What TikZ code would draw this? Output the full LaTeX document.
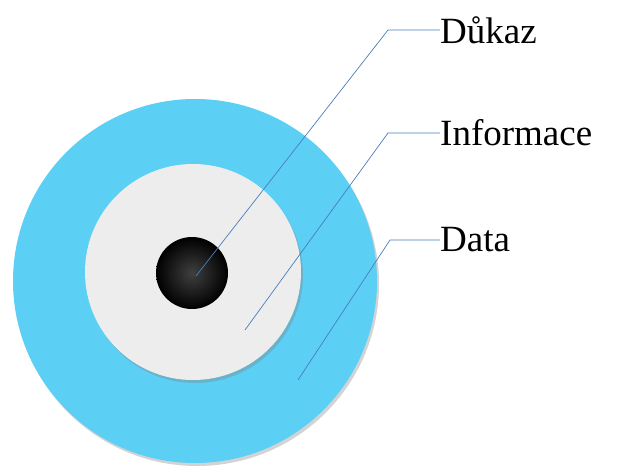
\documentclass[tikz,border=0pt]{standalone}
\usepackage{fontspec}
\setmainfont{Liberation Serif}
\usetikzlibrary{shadows}
\definecolor{ringblue}{HTML}{5CCFF5}
\definecolor{ringgray}{HTML}{EDEDED}
\definecolor{leader}{HTML}{4A7EBB}

\begin{document}
\begin{tikzpicture}[x=1pt,y=-1pt,thin]
  \tikzstyle{ring}=[circle,inner sep=0pt,drop shadow={opacity=0.35,shadow xshift=2pt,shadow yshift=-3pt}]
  \tikzstyle{lead}=[draw=leader,line width=0.7pt]
  \tikzstyle{word}=[anchor=west,inner sep=0pt,font=\fontsize{37}{40}\selectfont]
  \useasboundingbox (0,0) rectangle (617,470);

  \node[ring,fill=ringblue,minimum size=364pt]  (D) at (195,281) {};
  \node[ring,fill=ringgray,minimum size=216pt]  (I) at (193,272) {};
  \node[circle,inner sep=0pt,minimum size=72pt,
        inner color=black!75,outer color=black] (K) at (192,273) {};

  \coordinate (k1) at (388,30);
  \coordinate (i1) at (388,133);
  \coordinate (d1) at (390,240);
  \node[word] (Kt) at (440,30)  {Důkaz};
  \node[word] (It) at (440,133) {Informace};
  \node[word] (Dt) at (440,240) {Data};

  \draw[lead] (196,276) -- (k1) -- (Kt.west);
  \draw[lead] (245,330) -- (i1) -- (It.west);
  \draw[lead] (298,380) -- (d1) -- (Dt.west);
\end{tikzpicture}
\end{document}
